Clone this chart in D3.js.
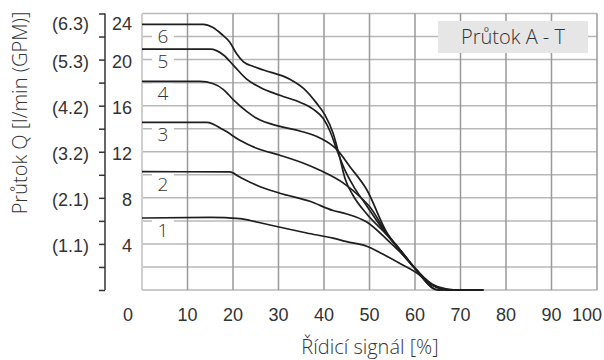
<!DOCTYPE html>
<html>
<head>
<meta charset="utf-8">
<script src="https://cdn.jsdelivr.net/npm/d3@7"></script>
<style>
  body { margin: 0; background: #fff; }
  svg { display: block; }
</style>
</head>
<body>
<svg id="chart" width="604" height="360"></svg>
<script>
// curve values: [signal %, flow l/min]
var curve1 = [[0,6.25],[15,6.3],[21.5,6.2],[25.2,5.9],[30.3,5.45],[36.2,4.95],[42,4.5],[45,4.2],[49.4,3.8],[53,3.1],[56.7,2.3],[61,1.3],[64.4,0.05],[66,0],[75,0]];
var curve2 = [[0,10.27],[19.3,10.25],[21.5,9.8],[25.2,9.1],[30.3,8.4],[36.9,7.7],[42,6.9],[45,6.6],[49.4,5.9],[53.8,4.4],[56.7,3.3],[60.4,1.7],[63.5,0.5],[66.5,0.05],[68,0],[75,0]];
var curve3 = [[0,14.55],[14.2,14.55],[17.9,13.9],[21.5,13.0],[25.2,12.3],[30.3,11.7],[36.2,10.9],[39.1,10.4],[44.2,9.3],[47.9,8.1],[50.1,7.2],[53.8,4.9],[56.7,3.4],[60.4,1.7],[63.5,0.5],[66.5,0.08],[69,0],[75,0]];
var curve4 = [[0,18.1],[12.7,18.1],[15.7,17.9],[17.9,17.4],[20.1,16.5],[23,15.5],[25.2,14.9],[30.3,14.2],[34.7,13.8],[39.1,13.2],[42.8,12.2],[45.7,10.7],[49.4,8.7],[53.8,5.0],[56.7,3.5],[60.4,1.7],[63.8,0.5],[67,0.08],[70,0],[75,0]];
var curve5 = [[0,20.9],[15,20.9],[17.9,20.4],[20.1,19.5],[23,18.3],[25.9,17.6],[30.3,16.9],[34.7,16.3],[37.6,15.7],[39.8,14.9],[41.3,13.8],[42.8,12.2],[44.5,10.5],[46.5,9.0],[49.4,7.3],[53.8,4.8],[56.7,3.5],[60.4,1.7],[63.5,0.5],[66.5,0.05],[68,0],[75,0]];
var curve6 = [[0,23.05],[13.5,23.05],[15.5,22.8],[17.5,22.2],[19.3,21.5],[20.8,20.5],[22.3,19.8],[24.5,19.4],[26.7,19.1],[32.5,18.3],[35.5,17.5],[38.4,16.2],[40.2,15.2],[42,13.6],[43.4,11.6],[44.6,9.7],[46.4,8.2],[49.4,6.6],[53.8,4.8],[56.7,3.5],[60.4,1.7],[63.2,0.4],[65,0],[75,0]];
var curves = [curve1, curve2, curve3, curve4, curve5, curve6];
var curveNames = ["1", "2", "3", "4", "5", "6"];

var xTicks = [0, 10, 20, 30, 40, 50, 60, 70, 80, 90, 100];
var yTicks = [4, 8, 12, 16, 20, 24];
var gpmLabels = ["(1.1)", "(2.1)", "(3.2)", "(4.2)", "(5.3)", "(6.3)"];
var yTitle = "Průtok Q [l/min (GPM)]";
var xTitle = "Řídicí signál [%]";
var boxTitle = "Průtok A - T";

var svg = d3.select("#chart");
var x = d3.scaleLinear().domain([0, 100]).range([142, 597]);
var y = d3.scaleLinear().domain([0, 24]).range([290, 13.5]);

var tickFont = "'Liberation Sans', Arial, sans-serif";
var textFont = "'Open Sans', 'Noto Sans', sans-serif";

//// grid
var grid = svg.append("g");
grid.selectAll(".hgrid")
  .data(d3.range(0, 25, 2))
  .enter().append("line")
  .attr("x1", x(0)).attr("x2", x(100))
  .attr("y1", d => y(d)).attr("y2", d => y(d))
  .attr("stroke", "#b8b8b8").attr("stroke-width", 1.5);
grid.selectAll(".vgrid")
  .data(d3.range(10, 101, 10))
  .enter().append("line")
  .attr("x1", d => x(d)).attr("x2", d => x(d))
  .attr("y1", y(0)).attr("y2", y(24))
  .attr("stroke", "#999").attr("stroke-width", 1.5);
grid.append("line")
  .attr("x1", x(0)).attr("x2", x(0))
  .attr("y1", y(0)).attr("y2", y(24))
  .attr("stroke", "#cfcfcf").attr("stroke-width", 2);

//// left axis (l/min)
var yAxis = d3.axisLeft(y).tickValues(d3.range(0, 25, 2)).tickSize(6).tickFormat("");
var yAxisG = svg.append("g").attr("transform", "translate(105,0)").call(yAxis);
yAxisG.select(".domain").attr("stroke", "#333").attr("stroke-width", 1.5).attr("d", "M0," + y(24) + "V" + y(0));
yAxisG.selectAll(".tick line").attr("stroke", "#333").attr("stroke-width", 1.5);

svg.append("g").selectAll("text")
  .data(yTicks)
  .enter().append("text")
  .attr("x", 132)
  .attr("y", d => d == 24 ? y(d) + 16 : y(d) + 8)
  .attr("text-anchor", "end")
  .attr("font-family", tickFont).attr("font-size", "18px").attr("fill", "#333")
  .text(d => d);

svg.append("g").selectAll("text")
  .data(yTicks)
  .enter().append("text")
  .attr("x", 89)
  .attr("y", d => d == 24 ? y(d) + 16 : y(d) + 8)
  .attr("text-anchor", "end")
  .attr("font-family", tickFont).attr("font-size", "18px").attr("fill", "#333")
  .text((d, i) => gpmLabels[i]);

//// x tick labels
svg.append("g").selectAll("text")
  .data(xTicks)
  .enter().append("text")
  .attr("x", d => x(d) + (d == 0 ? -14 : d == 100 ? -10 : 0))
  .attr("y", 321)
  .attr("text-anchor", "middle")
  .attr("font-family", tickFont).attr("font-size", "18px").attr("fill", "#333")
  .text(d => d);

//// curves
var line = d3.line().x(d => x(d[0])).y(d => y(d[1])).curve(d3.curveMonotoneX);
svg.append("g").selectAll("path")
  .data(curves)
  .enter().append("path")
  .attr("d", line)
  .attr("fill", "none")
  .attr("stroke", "#1e1e1e")
  .attr("stroke-width", 1.7);

//// curve labels
var labels = svg.append("g").selectAll("g")
  .data(curves)
  .enter().append("g")
  .attr("transform", d => "translate(" + x(4.6) + "," + (y(d[0][1]) + 12) + ")");
labels.append("rect")
  .attr("x", -11).attr("y", -10).attr("width", 22).attr("height", 20)
  .attr("fill", "#fff");
labels.append("text")
  .attr("text-anchor", "middle")
  .attr("dy", "0.36em")
  .attr("font-family", textFont).attr("font-size", "19px").attr("font-weight", 300).attr("fill", "#333")
  .text((d, i) => curveNames[i]);

//// box title
svg.append("rect")
  .attr("x", 438).attr("y", 21).attr("width", 150).attr("height", 32)
  .attr("fill", "#e6e6e6");
svg.append("text")
  .attr("x", 513).attr("y", 44)
  .attr("text-anchor", "middle")
  .attr("font-family", textFont).attr("font-size", "20px").attr("font-weight", 300).attr("fill", "#333")
  .text(boxTitle);

//// axis titles
svg.append("text")
  .attr("x", 370).attr("y", 354)
  .attr("text-anchor", "middle")
  .attr("font-family", textFont).attr("font-size", "20px").attr("font-weight", 300).attr("fill", "#333")
  .text(xTitle);
svg.append("text")
  .attr("transform", "translate(27,113) rotate(-90)")
  .attr("text-anchor", "middle")
  .attr("font-family", textFont).attr("font-size", "20px").attr("font-weight", 300).attr("fill", "#333")
  .text(yTitle);
</script>
</body>
</html>
